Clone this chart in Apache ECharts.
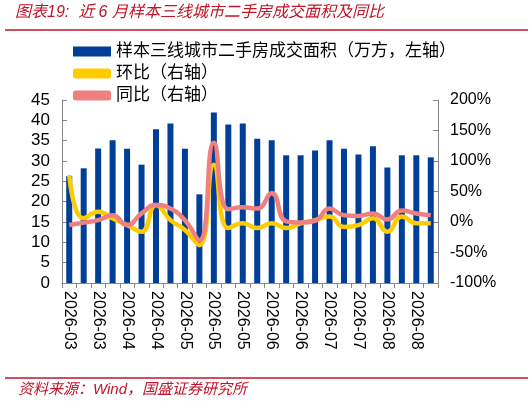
<!DOCTYPE html><html><head><meta charset="utf-8">
<script src="https://cdn.jsdelivr.net/npm/echarts@6/dist/echarts.min.js"></script>
<style>html,body{margin:0;padding:0;background:#fff}#c{width:532px;height:403px}</style></head><body><div id="c"></div>
<script>
var categories=['2026-03','2026-03','2026-03','2026-04','2026-04','2026-04','2026-04','2026-05','2026-05','2026-05','2026-05','2026-05','2026-05','2026-06','2026-06','2026-06','2026-06','2026-06','2026-07','2026-07','2026-07','2026-07','2026-08','2026-08','2026-08','2026-08'];
var area=[26.3,28.2,33.1,35.1,33.0,29.1,37.8,39.2,33.0,21.8,41.9,39.0,39.2,35.5,35.1,31.4,31.4,32.6,35.1,33.0,31.6,33.6,28.4,31.4,31.4,30.9];
var mom=[77,6,17,6,-5,-16,28,3,-13,-38,94,-10,-2,-10,-2,-10,-2,3,9,-8,-5,6,-16,9,-2,-2];
var yoy=[-5,-1,3,11,-5,14,28,22,3,-30,130,21,24,22,47,1,-1,2,22,11,10,14,4,19,14,11];
var f='"Liberation Sans","Noto Sans CJK SC",sans-serif';
var c=echarts.init(document.getElementById('c'));
c.setOption({
animation:false,
graphic:[
{type:'text',left:15,top:5,style:{text:'图表19:  近 6 月样本三线城市二手房成交面积及同比',fill:'#c0142a',font:'italic 16px '+f}},
{type:'line',shape:{x1:5,y1:30,x2:528,y2:30},style:{stroke:'#c0142a',lineWidth:1.5}},
{type:'line',shape:{x1:5,y1:378,x2:528,y2:378},style:{stroke:'#c0142a',lineWidth:1.5}},
{type:'text',left:18,top:382,style:{text:'资料来源：Wind，国盛证券研究所',fill:'#c0142a',font:'italic 15px '+f}}
],
legend:{orient:'vertical',left:68,top:38,itemGap:5,itemWidth:38,itemHeight:10,textStyle:{fontSize:17,color:'#000',fontFamily:f},
data:[{name:'样本三线城市二手房成交面积（万方，左轴）',icon:'rect'},{name:'环比（右轴）',icon:'roundRect'},{name:'同比（右轴）',icon:'roundRect'}]},
grid:{left:62,right:94,top:100,bottom:120},
xAxis:{type:'category',data:categories,axisLine:{lineStyle:{color:'#888'}},axisTick:{show:true,interval:0,lineStyle:{color:'#888'}},
axisLabel:{interval:1,rotate:-90,color:'#000',fontSize:16,fontFamily:f,margin:8}},
yAxis:[
{type:'value',min:0,max:45,interval:5,splitLine:{show:false},axisLine:{show:true,lineStyle:{color:'#888'}},axisTick:{show:true,inside:true,lineStyle:{color:'#888'}},axisLabel:{color:'#000',fontSize:17,fontFamily:f,margin:12}},
{type:'value',min:-100,max:200,interval:50,splitLine:{show:false},axisLine:{show:true,lineStyle:{color:'#888'}},axisTick:{show:true,inside:true,lineStyle:{color:'#888'}},axisLabel:{color:'#000',fontSize:16,fontFamily:f,formatter:'{value}%',margin:12}}
],
series:[
{name:'样本三线城市二手房成交面积（万方，左轴）',type:'bar',data:area,barWidth:6,itemStyle:{color:'#003f98'}},
{name:'环比（右轴）',type:'line',yAxisIndex:1,data:mom,smooth:true,symbol:'none',lineStyle:{color:'#ffcc00',width:4.5},itemStyle:{color:'#ffcc00'}},
{name:'同比（右轴）',type:'line',yAxisIndex:1,data:yoy,smooth:true,symbol:'none',lineStyle:{color:'#f08080',width:4.5},itemStyle:{color:'#f08080'}}
]});
</script></body></html>
